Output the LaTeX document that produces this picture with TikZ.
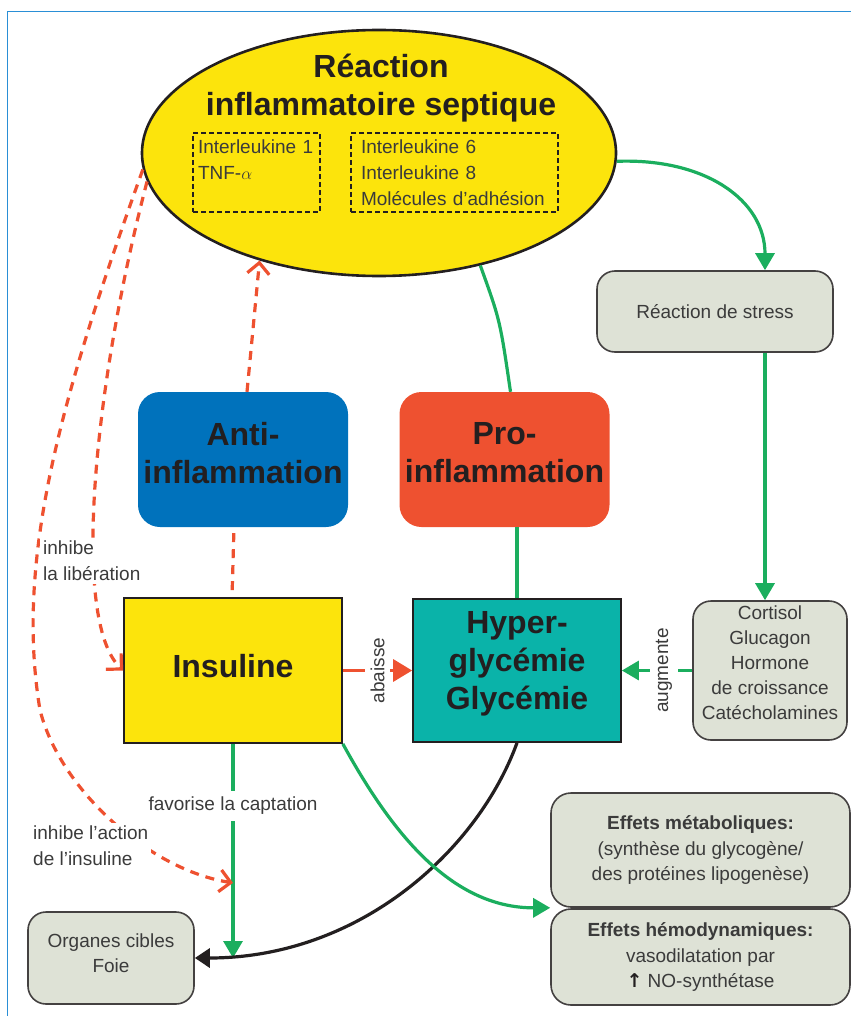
\documentclass[tikz,border=0pt]{standalone}
\usepackage{fontspec}
\setmainfont{Liberation Sans}
\newfontfamily\arrowfont{DejaVu Sans}
\usepackage{xcolor}
\usepackage{tikz}
\usetikzlibrary{arrows.meta,shapes.geometric,calc}
\definecolor{SepsisYellow}{HTML}{FCE40C}
\definecolor{AntiBlue}{HTML}{0072BC}
\definecolor{ProRed}{HTML}{EE5130}
\definecolor{GlucoTeal}{HTML}{0AB3A9}
\definecolor{SageGray}{HTML}{DEE2D6}
\definecolor{FlowGreen}{HTML}{1BAE5E}
\definecolor{InkGray}{HTML}{3B3B3B}
\definecolor{InkBlack}{HTML}{231F20}
\definecolor{FrameBlue}{HTML}{2A8FD6}

\begin{document}
\begin{tikzpicture}[
  x=1pt,y=-1pt,
  txt/.style={font=\fontsize{19}{25.5}\selectfont,text=InkGray},
  bigtxt/.style={font=\fontsize{32}{38}\selectfont\bfseries,text=InkBlack,align=center},
  ell/.style={ellipse,draw=InkBlack,fill=SepsisYellow,line width=2.6pt,minimum width=474pt,minimum height=246pt},
  dbox/.style={txt,font=\fontsize{19}{26}\selectfont,draw=InkBlack,dash pattern=on 5pt off 3pt,line width=1.7pt,align=left,minimum height=79pt,inner ysep=4pt},
  soft/.style={txt,draw=InkBlack!85,fill=SageGray,line width=1.6pt,rounded corners=18pt,align=center,inner sep=0pt},
  pill/.style={bigtxt,rounded corners=22pt,minimum width=210pt,minimum height=135pt,text depth=14pt},
  sharp/.style={bigtxt,draw=InkBlack,line width=1.7pt},
  lbl/.style={txt,fill=white,inner sep=6pt},
  garr/.style={draw=FlowGreen,line width=3.2pt,-{Triangle[length=17pt,width=19pt]}},
  gline/.style={draw=FlowGreen,line width=3.2pt},
  rarr/.style={draw=ProRed,line width=3.2pt,-{Triangle[length=19pt,width=22pt]}},
  rdash/.style={draw=ProRed,line width=3.2pt,dash pattern=on 9pt off 7pt},
  rbarb/.style={rdash,-{Straight Barb[length=11pt,width=22pt]}},
  karr/.style={draw=InkBlack,line width=3.2pt,-{Triangle[length=15pt,width=19pt]}}
]
\useasboundingbox (0,0) rectangle (851,1016);
\draw[FrameBlue,line width=1.3pt] (7.5,1016) |- (851,11.5);
\node[ell] (ell) at (379,153) {};
\node[bigtxt] (ttl) at (381,88) {Réaction\\inflammatoire septique};
\node[dbox,minimum width=127pt,text width=117pt,inner xsep=5pt] (cyt1) at (256.5,172.5) {Interleukine 1\\TNF-$\alpha$\\\mbox{}};
\node[dbox,minimum width=207pt,text width=187pt,inner xsep=10pt] (cyt2) at (454.5,172.5) {Interleukine 6\\Interleukine 8\\Molécules d’adhésion};
\node[soft,minimum width=236pt,minimum height=81pt] (stress) at (715,311.5) {Réaction de stress};
\node[pill,fill=AntiBlue] (anti) at (243,459.5) {Anti-\\inflammation};
\node[pill,fill=ProRed] (pro) at (504.5,459.5) {Pro-\\inflammation};
\node[sharp,fill=SepsisYellow,minimum width=218pt,minimum height=145pt,text depth=10pt] (ins) at (233,670.5) {Insuline};
\node[sharp,fill=GlucoTeal,minimum width=208pt,minimum height=143pt,text depth=21pt] (hyp) at (517,670.5) {Hyper-\\glycémie\\Glycémie};
\node[soft,font=\fontsize{19}{25}\selectfont,minimum width=154pt,minimum height=139pt,text depth=16pt] (cort) at (770,670.5) {Cortisol\\Glucagon\\Hormone\\de croissance\\Catécholamines};
\node[soft,rounded corners=20pt,minimum width=299pt,minimum height=114pt] (met) at (700.5,850) {\textbf{Effets métaboliques:}\\(synthèse du glycogène/\\des protéines lipogenèse)};
\node[soft,rounded corners=20pt,minimum width=299pt,minimum height=96pt] (hemo) at (700.5,957) {\textbf{Effets hémodynamiques:}\\vasodilatation par\\{\arrowfont\bfseries\color{InkBlack}↑} NO-synthétase};
\node[soft,minimum width=166pt,minimum height=92pt,text depth=10pt] (org) at (111,958) {Organes cibles\\Foie};
\coordinate (capt) at (ins.south |- org.east);
\coordinate (hit) at ($(ins.south)+(0,139)$);
\draw[garr] (ell.-2) .. controls (705,158) and (765,200) .. ([xshift=50pt]stress.north);
\draw[garr] ([xshift=50pt]stress.south) -- ([xshift=-5pt]cort.north);
\draw[gline] (ell.-48) .. controls (500,320) .. ([xshift=6pt]pro.north);
\draw[gline] (hyp.north |- pro.south) -- (hyp.north);
\draw[garr] (cort.west) -- node[lbl,rotate=90,pos=.4] {augmente} (hyp.east);
\draw[rarr] (ins.east) -- node[lbl,rotate=90] {abaisse} (hyp.west);
\draw[rbarb] ([xshift=4pt]anti.north) -- (ell.-138);
\draw[rdash,shorten <=6pt,shorten >=6pt] ([xshift=-9pt]anti.south) -- ([xshift=-1pt]ins.north);
\draw[garr] (ins.south) -- node[lbl,pos=.29] {favorise la captation} (capt);
\draw[karr] (hyp.south) .. controls (478,850) and (360,958) .. (org.east);
\draw[garr] (ins.south east) .. controls (390,830) and (450,908) .. (met.south west);
\draw[rbarb] (ell.187) .. controls (95,380) and (70,620) .. (ins.west);
\draw[rbarb] (ell.184) .. controls (60,400) and (15,560) .. (40,710) .. controls (60,790) and (150,870) .. (hit);
\node[lbl,inner sep=3pt,align=left,anchor=north west] (lib) at (40,538) {inhibe\\la libération};
\node[lbl,inner sep=3pt,align=left,anchor=north west] (act) at (30,823) {inhibe l’action\\de l’insuline};
\end{tikzpicture}
\end{document}
